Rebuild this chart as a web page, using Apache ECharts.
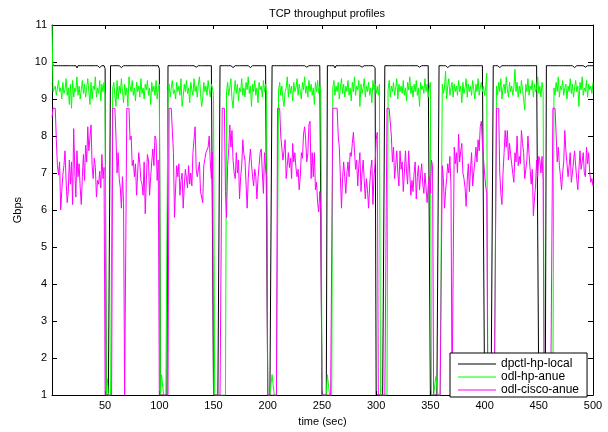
<!DOCTYPE html>
<html>
<head>
<meta charset="utf-8">
<script src="https://cdn.jsdelivr.net/npm/echarts@6/dist/echarts.min.js"></script>
<style>
  html, body { margin: 0; padding: 0; background: #fff; }
  #chart { width: 608px; height: 432px; }
</style>
</head>
<body>
<div id="chart"></div>
<script>
// Throughput samples, one per second (t = 1 .. 500), in Gbps.
const startTime = 1;
const xTicks = [50, 100, 150, 200, 250, 300, 350, 400, 450, 500];
const yTicks = [1, 2, 3, 4, 5, 6, 7, 8, 9, 10, 11];
const seriesNames = ['dpctl-hp-local', 'odl-hp-anue', 'odl-cisco-anue'];

const dpctlHpLocal = [
  9.95,9.9,9.9,9.9,9.9,9.9,9.9,9.9,9.9,9.9,9.9,9.9,9.9,9.9,9.9,9.9,9.9,9.9,9.9,9.9,9.9,9.9,9.9,9.84,9.9,
  9.9,9.9,9.9,9.9,9.9,9.9,9.9,9.9,9.9,9.9,9.9,9.9,9.9,9.9,9.9,9.9,9.9,9.9,9.9,9.85,9.9,9.9,9.9,9.9,9.82,
  1,1,1,1,9.9,9.9,9.9,9.9,9.9,9.9,9.9,9.9,9.9,9.9,9.85,9.9,9.9,9.9,9.9,9.9,9.9,9.9,9.9,9.9,9.9,
  9.9,9.9,9.9,9.9,9.9,9.9,9.9,9.9,9.85,9.9,9.9,9.9,9.9,9.9,9.9,9.9,9.9,9.9,9.9,9.9,9.9,9.9,9.9,9.9,9.82,
  1,1,1,1,1,1,1,9.9,9.9,9.9,9.9,9.9,9.9,9.9,9.85,9.9,9.9,9.9,9.9,9.9,9.9,9.9,9.9,9.9,9.9,
  9.9,9.9,9.9,9.9,9.9,9.9,9.9,9.9,9.86,9.9,9.9,9.9,9.9,9.9,9.9,9.9,9.9,9.9,9.9,9.9,9.9,9.9,9.9,9.85,1,
  1,1,1,1,1,9.9,9.9,9.9,9.9,9.9,9.9,9.9,9.9,9.9,9.9,9.9,9.9,9.85,9.9,9.9,9.9,9.9,9.9,9.9,9.9,
  9.9,9.9,9.9,9.9,9.9,9.9,9.9,9.9,9.85,9.9,9.9,9.9,9.9,9.9,9.9,9.9,9.9,9.9,9.9,9.9,9.9,9.9,9.9,9.86,1,
  1,1,1,9.9,9.9,9.9,9.9,9.9,9.9,9.9,9.9,9.9,9.9,9.9,9.9,9.9,9.9,9.9,9.9,9.9,9.85,9.9,9.9,9.9,9.9,
  9.9,9.9,9.9,9.9,9.9,9.9,9.9,9.9,9.9,9.9,9.86,9.9,9.9,9.9,9.9,9.9,9.9,9.9,9.9,9.9,9.9,9.9,9.9,9.85,1,
  1,1,1,1,9.9,9.9,9.9,9.9,9.9,9.9,9.9,9.84,9.9,9.9,9.9,9.9,9.9,9.9,9.9,9.9,9.9,9.9,9.9,9.9,9.9,
  9.9,9.9,9.9,9.9,9.9,9.9,9.9,9.9,9.9,9.9,9.9,9.86,9.9,9.9,9.9,9.9,9.9,9.9,9.9,9.9,9.9,9.9,9.9,9.85,1,
  1,1,1,1,1,1,1,9.9,9.9,9.9,9.9,9.9,9.85,9.9,9.9,9.9,9.9,9.9,9.9,9.9,9.9,9.9,9.9,9.9,9.9,
  9.9,9.9,9.9,9.9,9.9,9.9,9.9,9.9,9.9,9.9,9.9,9.9,9.9,9.9,9.86,9.9,9.9,9.9,9.9,9.9,9.9,9.9,9.9,9.85,1,
  1,1,1,1,1,1,1,9.9,9.9,9.9,9.9,9.9,9.9,9.9,9.9,9.85,9.9,9.9,9.9,9.9,9.9,9.9,9.9,9.9,9.9,
  9.9,9.9,9.9,9.9,9.9,9.9,9.9,9.9,9.9,9.85,9.9,9.9,9.9,9.9,9.9,9.9,9.9,9.9,9.9,9.9,9.9,9.9,9.9,9.86,1,
  1,1,1,1,1,1,1,9.9,9.9,9.9,9.9,9.9,9.9,9.85,9.9,9.9,9.9,9.9,9.9,9.9,9.9,9.9,9.9,9.9,9.9,
  9.9,9.9,9.9,9.9,9.9,9.86,9.9,9.9,9.9,9.9,9.9,9.9,9.9,9.9,9.9,9.9,9.9,9.9,9.9,9.9,9.9,9.9,9.9,9.85,1,
  1,1,1,1,1,1,9.9,9.9,9.9,9.9,9.9,9.9,9.9,9.9,9.9,9.85,9.9,9.9,9.9,9.9,9.9,9.9,9.9,9.9,9.9,
  9.9,9.9,9.9,9.9,9.9,9.9,9.9,9.85,9.9,9.9,9.9,9.9,9.9,9.9,9.9,9.9,9.9,9.86,9.9,9.9,9.9,9.9,9.9,9.9,9.9
];

const odlHpAnue = [
  11,9.2,9.15,9.35,9.1,9.05,9.5,9.2,9.3,9.0,9.45,9.15,9.25,9.55,9.1,9.3,8.85,9.4,8.75,9.5,9.05,9.3,9.2,9.6,9.1,
  9.35,9.0,9.25,9.5,9.15,9.4,9.05,9.3,9.55,9.2,8.85,9.45,9.0,9.35,9.25,9.6,9.05,9.3,9.15,9.5,8.95,9.4,9.2,9.45,9.1,
  1,1.45,1,1,1,1,9.3,9.45,9.1,8.8,9.5,9.0,9.35,9.15,9.55,9.2,8.9,9.4,9.1,9.3,8.8,9.6,9.35,9.2,9.5,
  9.1,9.3,8.95,9.45,9.2,9.35,9.05,9.55,9.15,9.3,9.0,9.4,9.25,9.5,9.1,9.3,8.85,9.45,9.2,9.35,9.1,9.5,9.0,9.3,9.4,
  1,1.55,1.55,1,1,1,1,9.2,9.4,9.05,9.3,9.5,9.15,9.25,9.0,9.45,9.2,9.35,9.1,9.55,8.8,9.05,9.4,9.2,9.5,
  9.15,9.3,8.9,9.45,9.25,9.1,9.55,9.2,9.35,9.05,9.4,9.6,9.15,8.8,9.0,9.45,9.2,9.35,9.1,9.5,9.25,9.05,9.4,9.3,9.1,
  1,1,1,1,1,1,1,1,1,1,1,9.2,9.45,9.1,9.3,9.55,9.0,8.75,9.2,9.5,9.15,9.4,8.95,9.3,9.2,
  9.55,9.1,9.3,9.05,9.45,9.25,9.6,9.15,9.35,8.8,9.4,9.2,9.5,9.1,9.3,8.9,9.45,9.25,9.35,9.05,9.5,9.2,9.4,9.15,1,
  1,1,1,1.55,1.55,1,1,1,1,9.25,9.45,9.1,9.35,9.0,8.8,9.2,9.3,9.6,9.05,9.4,9.15,9.35,8.95,9.45,9.2,
  9.3,9.55,9.1,9.4,9.2,9.0,9.45,9.25,9.6,9.15,9.35,9.05,9.5,9.2,9.4,9.1,9.3,8.85,9.45,9.2,9.5,9.15,9.35,9.25,1,
  1,1,1,1,1.55,1.55,1,1,1,9.3,9.5,9.1,9.35,9.2,9.45,9.0,9.3,9.55,9.15,9.4,9.05,9.35,9.2,9.5,9.1,
  9.3,8.95,9.45,9.2,9.6,9.1,9.35,9.25,9.5,8.8,9.4,9.15,9.3,9.55,9.05,9.35,9.2,9.45,9.1,9.3,8.9,9.5,9.25,9.4,9.15,
  9.35,9.1,9.4,1,1,1,1,1,1,1,9.25,9.5,9.05,9.35,9.2,9.45,9.1,9.3,9.55,9.0,9.4,9.2,9.35,9.15,9.5,
  9.1,9.3,8.95,9.45,9.25,9.6,9.15,9.35,9.05,9.4,9.2,9.5,9.1,9.3,8.8,9.45,9.25,9.35,9.15,9.55,9.2,9.4,9.05,9.3,9.45,
  1,1,1,1,1.5,1.5,1,1,1,1,9.4,9.15,9.3,9.75,9.0,9.35,9.55,9.1,9.3,9.45,9.05,9.4,9.2,9.35,9.1,
  9.5,9.2,9.35,8.9,9.45,9.15,9.3,9.55,9.05,9.4,9.2,9.35,9.1,9.5,9.25,9.0,9.4,9.2,9.55,9.1,9.3,9.45,9.2,9.35,9.1,
  9.3,9.7,1,1,1,1,1,1,1,1,9.35,9.1,9.45,9.2,9.55,9.0,9.3,9.4,9.15,9.6,9.25,9.05,9.45,9.2,9.35,
  9.1,9.3,9.8,9.2,9.45,9.05,9.35,9.15,9.5,9.25,9.0,8.7,9.4,9.2,9.55,9.1,9.35,9.25,9.5,9.05,9.4,9.2,9.3,9.6,9.15,
  9.35,9.05,9.45,9.2,1,1,1,1,1,1,1,1,1,9.3,9.1,9.45,9.2,9.6,9.05,9.35,9.25,9.5,9.1,9.3,9.4,
  9.0,9.35,9.2,9.55,9.15,9.4,9.05,9.3,9.5,9.2,9.35,8.8,9.45,9.25,9.6,9.1,9.3,9.2,9.5,9.05,9.4,9.25,9.35,9.15,9.45
];

const odlCiscoAnue = [
  8.5,8.75,8.75,8.75,7.9,7.2,6.95,7.3,6.0,6.5,6.95,7.2,7.6,6.8,6.2,6.5,7.35,6.7,7.3,6.15,8.2,7.1,6.35,7.6,6.9,
  7.25,6.6,6.15,6.9,7.5,6.8,7.75,7.3,8.25,7.6,7.95,8.3,7.2,6.85,7.4,7.15,6.35,6.8,6.7,7.05,6.6,7.5,6.85,7.15,1,
  1,1,1,1,1,1,8.75,8.75,8.75,8.0,7.0,7.55,6.85,6.6,6.05,6.9,6.2,1,1,8.75,8.75,8.75,7.9,8.0,7.2,
  7.35,6.9,7.25,6.4,7.0,7.55,7.25,6.8,6.7,6.4,7.3,5.9,6.8,7.5,7.35,6.4,6.9,7.3,7.65,7.2,8.0,7.9,6.8,7.35,1,
  1,1,1,1,1,1,1,1,8.75,8.75,8.75,8.75,7.55,5.8,6.6,7.2,6.9,7.25,6.4,6.8,7.0,6.05,6.65,7.1,7.1,
  6.6,7.2,6.7,7.0,6.65,7.55,7.9,8.25,7.1,6.9,6.85,7.3,6.5,6.55,6.2,7.2,7.15,7.55,7.5,7.7,8.0,7.3,6.85,7.55,1,
  1,1,1,1,1,1,1,8.75,8.75,8.75,6.5,5.8,7.2,7.65,8.3,7.7,8.15,7.35,7.0,6.85,7.55,7.0,7.35,6.3,6.9,
  7.2,7.9,7.5,7.35,6.7,6.05,6.85,7.3,7.65,7.25,6.9,6.65,7.1,6.9,6.3,6.85,7.2,7.55,7.65,7.0,6.45,7.55,7.1,6.9,1,
  1,1,1,1,1,1,1,1,8.75,8.75,8.75,8.0,7.95,7.35,7.6,7.9,6.85,7.2,7.55,7.15,7.4,6.85,7.8,7.3,7.55,
  7.15,6.9,7.1,6.55,6.9,7.55,7.4,8.05,8.25,7.9,7.3,7.55,8.3,8.4,6.85,7.55,6.9,7.55,6.55,6.75,6.2,5.95,6.5,5.95,1,
  1,1,1,1,1,1,1,1,1,8.75,8.75,8.75,8.75,8.75,8.0,7.7,6.9,6.05,6.85,7.3,6.9,6.45,7.0,7.3,6.9,
  7.55,7.45,7.8,8.1,8.15,7.1,7.35,6.65,7.2,7.55,6.5,7.0,7.35,6.8,6.3,6.85,6.55,6.05,6.65,7.1,7.35,6.15,6.9,7.25,7.9,
  8.1,1,1,1,1,1,1,1,1,8.75,8.75,8.75,8.75,8.0,7.3,7.7,6.85,7.2,7.6,7.0,6.65,7.6,7.1,7.3,6.5,
  7.0,7.6,7.05,6.7,7.6,7.6,6.4,6.8,6.5,7.0,7.3,6.3,6.9,7.2,6.55,6.95,7.25,6.7,6.45,7.0,6.6,6.2,6.65,6.9,6.45,
  7.35,7.2,1,1,1,1,1,1,1,1,7.2,6.85,6.05,6.5,6.85,7.25,7.0,7.45,6.65,1,1,7.7,7.25,7.55,7.0,
  8.05,7.3,7.6,7.8,7.0,6.85,6.6,6.1,6.8,7.25,6.5,7.1,7.55,6.65,7.0,7.3,7.7,7.3,7.9,7.6,8.25,8.4,7.8,7.4,7.0,
  6.65,6.45,1,1,1,1,1,1,1,1,8.75,8.75,8.75,7.0,6.45,6.15,7.0,7.55,8.15,7.7,8.15,7.35,7.8,7.5,7.25,
  7.0,6.75,7.55,7.3,8.0,7.2,7.45,7.25,8.15,7.8,7.55,6.85,7.1,7.35,8.0,7.5,7.1,6.7,7.1,5.85,6.3,6.65,7.35,6.9,7.45,
  7.35,7.0,7.45,6.8,1,1,1,1,1,1,1,1,8.75,8.75,8.75,8.05,7.3,7.7,7.2,6.9,6.55,7.0,7.3,8.15,7.6,
  7.25,6.9,7.2,7.55,6.75,7.0,7.3,7.6,7.2,6.85,6.55,7.1,7.6,7.1,7.3,7.55,7.0,6.9,7.7,7.25,7.55,7.0,6.75,6.85,6.65
];

// Sample clock: one reading per second starting at startTime.
const time = dpctlHpLocal.map((_, i) => startTime + i);
const pairs = (values) => values.map((v, i) => [time[i], v]);

const FONT = 'Liberation Sans, Arial, Helvetica, sans-serif';
const colors = ['#000000', '#00ff00', '#ff00ff'];

const chart = echarts.init(document.getElementById('chart'), null, { renderer: 'canvas' });

const baseX = {
  type: 'value',
  min: 1,
  max: 500,
  splitLine: { show: false },
  axisLine: { show: true, onZero: false, lineStyle: { color: '#000', width: 1 } },
  axisTick: { show: true, inside: true, length: 4, customValues: xTicks, lineStyle: { color: '#000' } },
};
const baseY = {
  type: 'value',
  min: 1,
  max: 11,
  interval: 1,
  splitLine: { show: false },
  axisLine: { show: true, onZero: false, lineStyle: { color: '#000', width: 1 } },
  axisTick: { show: true, inside: true, length: 5, lineStyle: { color: '#000' } },
};

chart.setOption({
  animation: false,
  backgroundColor: '#ffffff',
  title: {
    text: 'TCP throughput profiles',
    left: 322,
    top: 3,
    textAlign: 'center',
    textStyle: { fontFamily: FONT, fontSize: 11, fontWeight: 'normal', color: '#000' }
  },
  grid: { left: 52, top: 25, width: 541, height: 376, containLabel: false },
  xAxis: [
    Object.assign({}, baseX, {
      position: 'bottom',
      name: 'time (sec)',
      nameLocation: 'middle',
      nameGap: 16,
      nameTextStyle: { fontFamily: FONT, fontSize: 11, color: '#000' },
      axisLabel: { show: true, customValues: xTicks, margin: 5, fontFamily: FONT, fontSize: 11, color: '#000' }
    }),
    Object.assign({}, baseX, { position: 'top', axisLabel: { show: false } })
  ],
  yAxis: [
    Object.assign({}, baseY, {
      position: 'left',
      name: 'Gbps',
      nameLocation: 'middle',
      nameGap: 22,
      nameTextStyle: { fontFamily: FONT, fontSize: 11, color: '#000' },
      axisLabel: { show: true, margin: 5, fontFamily: FONT, fontSize: 11, color: '#000' }
    }),
    Object.assign({}, baseY, { position: 'right', axisLabel: { show: false } })
  ],
  legend: {
    orient: 'vertical',
    left: 450,
    top: 353,
    padding: [5, 8, 1, 8],
    icon: 'rect',
    itemWidth: 38,
    itemHeight: 1,
    itemGap: 1,
    backgroundColor: '#ffffff',
    borderColor: '#000000',
    borderWidth: 1,
    borderRadius: 0,
    textStyle: { fontFamily: FONT, fontSize: 12, color: '#000', lineHeight: 12 },
    data: seriesNames
  },
  series: [
    { name: seriesNames[0], data: pairs(dpctlHpLocal), color: colors[0] },
    { name: seriesNames[1], data: pairs(odlHpAnue), color: colors[1] },
    { name: seriesNames[2], data: pairs(odlCiscoAnue), color: colors[2] }
  ].map(s => ({
    type: 'line',
    name: s.name,
    data: s.data,
    xAxisIndex: 0,
    yAxisIndex: 0,
    symbol: 'none',
    showSymbol: false,
    sampling: null,
    clip: true,
    itemStyle: { color: s.color },
    lineStyle: { color: s.color, width: 1 }
  }))
});
</script>
</body>
</html>
